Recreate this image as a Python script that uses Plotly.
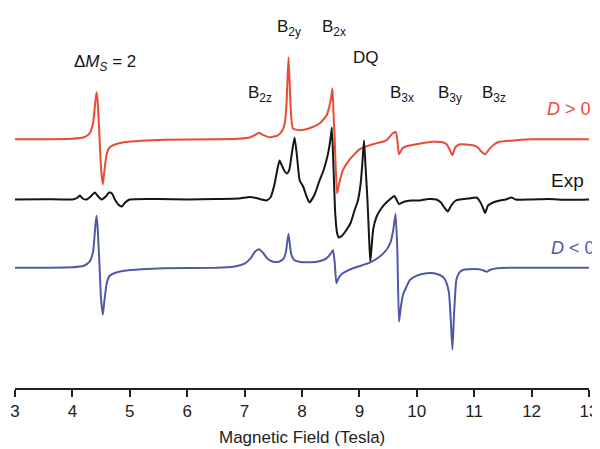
import numpy as np
import plotly.graph_objects as go

# ---------------- data (intensities in arbitrary units) ----------------
field_pos = [3.0, 4.0, 4.2, 4.3, 4.36, 4.40, 4.42, 4.44, 4.47, 4.50, 4.53, 4.56, 4.60, 4.65, 4.75, 4.9,
             5.2, 5.6, 6.5, 6.9, 7.1, 7.2, 7.25, 7.3, 7.44, 7.58, 7.66, 7.70, 7.73, 7.765, 7.80, 7.84,
             7.96, 8.13, 8.31, 8.43, 8.50, 8.53, 8.55, 8.57, 8.61, 8.64, 8.71, 8.82, 9.0, 9.23, 9.47,
             9.58, 9.63, 9.66, 9.69, 9.75, 9.82, 9.99, 10.28, 10.45, 10.52, 10.57, 10.62, 10.67, 10.75,
             10.98, 11.06, 11.12, 11.19, 11.26, 11.35, 11.44, 11.73, 12.0, 13.0]
signal_pos = [0, 0.5, 2, 6, 16, 38, 47, 38, 5, -30, -45, -30, -14, -8, -5, -3,
              -1.5, -0.5, 0, 0.5, 2, 5, 6.5, 5, 2, 4, 9, 16, 35, 82, 35, 11,
              9, 11, 16, 24, 39, 51, 25, 0, -54, -46, -31, -21, -10, -5, -1,
              6, 7.6, 0, -15, -9, -7, -5, -2.5, -3, -5, -10, -16, -8, -5,
              -6, -8, -12, -15, -10, -5, -2.5, -1, 0, 0]

field_exp = [3.0, 3.5, 4.0, 4.08, 4.13, 4.18, 4.25, 4.32, 4.39, 4.45, 4.51, 4.58, 4.64, 4.69, 4.74,
             4.80, 4.86, 4.92, 5.0, 5.5, 6.0, 6.5, 6.9, 7.09, 7.2, 7.3, 7.38, 7.45, 7.52, 7.57, 7.61,
             7.65, 7.70, 7.74, 7.78, 7.82, 7.87, 7.91, 7.96, 8.02, 8.08, 8.13, 8.22, 8.30, 8.38, 8.45,
             8.50, 8.52, 8.55, 8.58, 8.61, 8.64, 8.70, 8.78, 8.85, 8.92, 8.97, 9.02, 9.05, 9.08, 9.11,
             9.14, 9.17, 9.19, 9.24, 9.30, 9.38, 9.47, 9.53, 9.61, 9.69, 9.79, 9.90, 10.05, 10.2,
             10.34, 10.42, 10.48, 10.54, 10.60, 10.68, 10.75, 10.9, 11.04, 11.10, 11.15, 11.19, 11.24,
             11.33, 11.45, 11.55, 11.65, 11.72, 12.0, 12.3, 12.6, 13.0]
signal_exp = [0, 0.3, 0, 1.5, 4, 1, 0, 3, 7, 3, 0, 3, 7, 6, 0,
              -5, -7, -3, 0, 0.5, 0, 0.5, 1, 2.5, 1.5, 0, -1, 2, 15, 30, 39,
              34, 28, 26, 30, 45, 62, 45, 19, 13, 3, -3, 5, 18, 30, 45,
              62, 72, 30, -15, -33, -38, -36, -30, -23, -10, -2, 15, 35, 59, 30,
              0, -40, -62, -30, -17, -9, -3, 0, 3.5, -4.5, -2, -1, -1, 0.5,
              0, -3, -8, -12, -6, -1, 0, 1, 2, -2, -8, -13.5, -6,
              -3, -1, 0, 2, 0, 0, 0.4, -0.3, 0]

field_neg = [3.0, 4.0, 4.2, 4.3, 4.36, 4.40, 4.42, 4.44, 4.47, 4.50, 4.53, 4.56, 4.60, 4.65, 4.75, 4.9,
             5.2, 5.6, 6.5, 6.8, 7.0, 7.1, 7.18, 7.25, 7.32, 7.4, 7.5, 7.6, 7.68, 7.72, 7.765, 7.81, 7.86,
             7.95, 8.15, 8.3, 8.42, 8.50, 8.54, 8.57, 8.60, 8.64, 8.71, 8.89, 9.18, 9.35, 9.47, 9.54,
             9.59, 9.63, 9.66, 9.69, 9.72, 9.76, 9.82, 9.88, 10.0, 10.17, 10.30, 10.40, 10.47, 10.52,
             10.56, 10.59, 10.62, 10.65, 10.69, 10.74, 10.80, 10.9, 11.09, 11.17, 11.22, 11.28, 11.4,
             13.0]
signal_neg = [0, 0.5, 2, 6, 16, 42, 52, 40, 5, -32, -47, -32, -15, -8, -5, -3,
              -1.5, -0.5, 0, 1, 4, 9, 16, 18.5, 15, 9, 6, 6, 9, 16, 34, 14, 8,
              6, 5.5, 6.5, 9, 14, 17.7, 5, -15.6, -10, -5.6, -0.6, 5, 11, 17.7, 25,
              37.7, 54, 20, -54, -40, -27, -19, -12.3, -8, -5.6, -5.5, -7.3, -10, -15.6,
              -25, -50, -82, -45, -12, -5, -2.3, -1.5, -1.6, -3, -4, -2, -0.5,
              0]

# vertical stacking offsets of the three spectra (plot units)
offset_pos, offset_exp, offset_neg = 248.7, 188.5, 120.3

RED = "#ea4b33"
BLUE = "#5158a8"
BLACK = "#151515"
FONT = "Arial, Liberation Sans, sans-serif"

# the page's default 8px body margin shifts the figure; compensate in the layout
PAGE_PAD = 8
W, H = 600, 449
AXIS_Y = 388          # screen row of the x axis line
PLOT_L, PLOT_R = 15, 589.5  # screen columns of field 3 and 13
Y_TOP = AXIS_Y - (PAGE_PAD + 0)  # data units spanned by plot area (top at screen row 8)

fig = go.Figure()
for fxv, sy, off, col in [(field_pos, signal_pos, offset_pos, RED),
                           (field_exp, signal_exp, offset_exp, BLACK),
                           (field_neg, signal_neg, offset_neg, BLUE)]:
    fig.add_trace(go.Scatter(x=fxv, y=np.array(sy) + off, mode="lines",
                             line=dict(color=col, width=2, shape="spline", smoothing=0.5),
                             hoverinfo="skip", showlegend=False))

PX_PER_T = (PLOT_R - PLOT_L) / 10


def fx(px):
    return 3 + (px - PLOT_L) / PX_PER_T


def fy(py):
    return AXIS_Y - py


labels = [
    ("Δ<i>M</i><sub><i>S</i></sub> = 2", 73, 63, BLACK, 17),
    ("B<sub>2z</sub>", 246.7, 94, BLACK, 17),
    ("B<sub>2y</sub>", 276.7, 28, BLACK, 17),
    ("B<sub>2x</sub>", 321.7, 28, BLACK, 17),
    ("DQ", 352.7, 57, BLACK, 17),
    ("B<sub>3x</sub>", 389.3, 94, BLACK, 17),
    ("B<sub>3y</sub>", 437.3, 94, BLACK, 17),
    ("B<sub>3z</sub>", 481.7, 94, BLACK, 17),
    ("<i>D</i> > 0", 546.7, 108.7, RED, 18),
    ("Exp", 550.5, 180, BLACK, 19),
    ("<i>D</i> < 0", 550.5, 247.5, BLUE, 18),
]
for txt, px, py, col, sz in labels:
    fig.add_annotation(x=fx(px), y=fy(py), xref="x", yref="y", text=txt, showarrow=False,
                       xanchor="left", yanchor="middle", borderpad=0,
                       font=dict(family=FONT, size=sz, color=col))

fig.add_annotation(x=fx(302), y=fy(437) / Y_TOP, xref="x", yref="paper", text="Magnetic Field (Tesla)",
                   showarrow=False, xanchor="center", yanchor="middle",
                   font=dict(family=FONT, size=17, color="#222"))

fig.update_layout(
    width=W, height=H,
    margin=dict(l=PLOT_L - PAGE_PAD, r=W - (PLOT_R - PAGE_PAD), t=0, b=H - (AXIS_Y - PAGE_PAD),
                autoexpand=False),
    paper_bgcolor="white", plot_bgcolor="white",
    font=dict(family=FONT, color="#222"),
    xaxis=dict(range=[3, 13], tickmode="array", tickvals=list(range(3, 14)), automargin=False,
               showgrid=False, zeroline=False, showline=True, linecolor="#222", linewidth=2,
               ticks="outside", ticklen=7, tickwidth=2, tickcolor="#222",
               tickfont=dict(size=17, family=FONT, color="#222")),
    yaxis=dict(range=[0, Y_TOP], visible=False, showgrid=False, zeroline=False),
)

fig.write_html("out.html")
